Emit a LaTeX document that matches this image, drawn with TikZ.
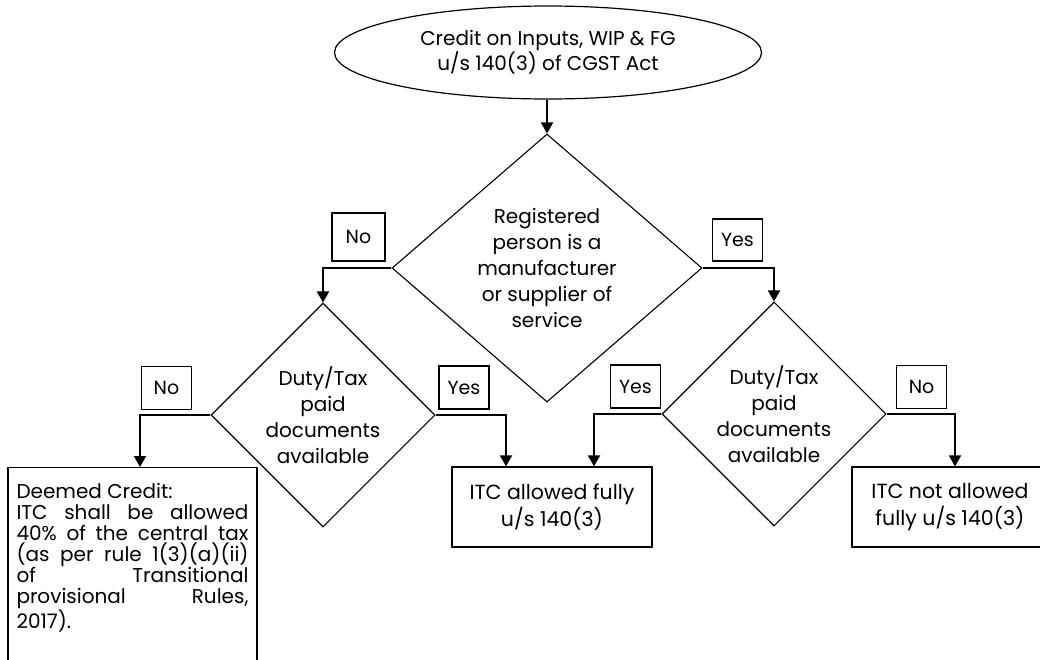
\documentclass[tikz,border=0pt]{standalone}
\usepackage{fontspec}
\setmainfont{Poppins}
\usetikzlibrary{shapes.geometric,arrows.meta}

\begin{document}
\begin{tikzpicture}[x=1pt, y=-1pt,
    arr/.style={line width=1.8pt, -{Triangle[length=11pt,width=12pt]}},
    decision/.style={diamond, draw, line width=1.1pt, inner sep=0pt, align=center,
                     font=\fontsize{20}{26}\selectfont},
    outcome/.style={rectangle, draw, line width=1.2pt, align=center,
                    minimum height=80pt, font=\fontsize{20.5}{27}\selectfont},
    answer/.style={rectangle, draw, line width=1.2pt, minimum width=50pt,
                   minimum height=43pt, inner sep=0pt, font=\fontsize{19}{22}\selectfont}]

  % ================= page =================
  \useasboundingbox (0,0) rectangle (1040,659);
  \clip (0,0) rectangle (1040,659);

  % ================= start =================
  \node[ellipse, draw, line width=1.2pt, minimum width=427pt, minimum height=93pt,
        inner sep=0pt, align=center, font=\fontsize{20}{23}\selectfont]
      (start) at (548,52.5) {Credit on Inputs, WIP \& FG\\u/s 140(3) of CGST Act};

  % ================= decisions =================
  \node[decision, minimum width=310pt, minimum height=268pt, shape aspect=1.16]
      (maker) at (547,268)
      {Registered\\person is a\\manufacturer\\or supplier of\\service};
  \node[decision, minimum width=224pt, minimum height=224pt] (docL) at (323,415)
      {Duty/Tax\\paid\\documents\\available};
  \node[decision, minimum width=224pt, minimum height=224pt] (docR) at (774,414)
      {Duty/Tax\\paid\\documents\\available};

  % ================= outcomes =================
  \node[rectangle, draw, line width=1.2pt, anchor=north, text width=232pt,
        inner xsep=8.5pt, inner ysep=0pt, text height=31pt, text depth=200pt,
        align=justify, font=\fontsize{20}{21}\selectfont]
      (deemed) at (132.5,467) {Deemed Credit:\\ITC shall be allowed\linebreak
      40\% of the central tax\linebreak (as per rule 1(3)(a)(ii)\linebreak
      of Transitional\linebreak provisional Rules,\linebreak 2017).};
  \node[outcome, minimum width=200pt] (full) at (552,507) {ITC allowed fully\\u/s 140(3)};
  \node[outcome, minimum width=196pt] (notfull) at (950,507) {ITC not allowed\\fully u/s 140(3)};

  % ================= answers =================
  \node[answer, minimum width=53pt, minimum height=48pt] (noA) at (358.5,237) {No};
  \node[answer, minimum height=42pt] (yesA) at (737.5,240) {Yes};
  \node[answer] (noB)  at (166.5,388) {No};
  \node[answer] (yesB) at (464,387.5) {Yes};
  \node[answer] (yesC) at (635.5,386.5) {Yes};
  \node[answer] (noC)  at (921.5,387) {No};

  % ================= connectors =================
  \draw[arr] (start.south -| maker.north) -- (maker.north);
  \draw[arr] (maker.west) -| (docL.north);
  \draw[arr] (maker.east) -| (docR.north);
  \draw[arr] (docL.west) -| ([xshift=7.5pt]deemed.north);
  \draw[arr] (docL.east) -| ([xshift=-46pt]full.north);
  \draw[arr] (docR.west) -| ([xshift=42pt]full.north);
  \draw[arr] (docR.east) -| ([xshift=5pt]notfull.north);

\end{tikzpicture}
\end{document}
